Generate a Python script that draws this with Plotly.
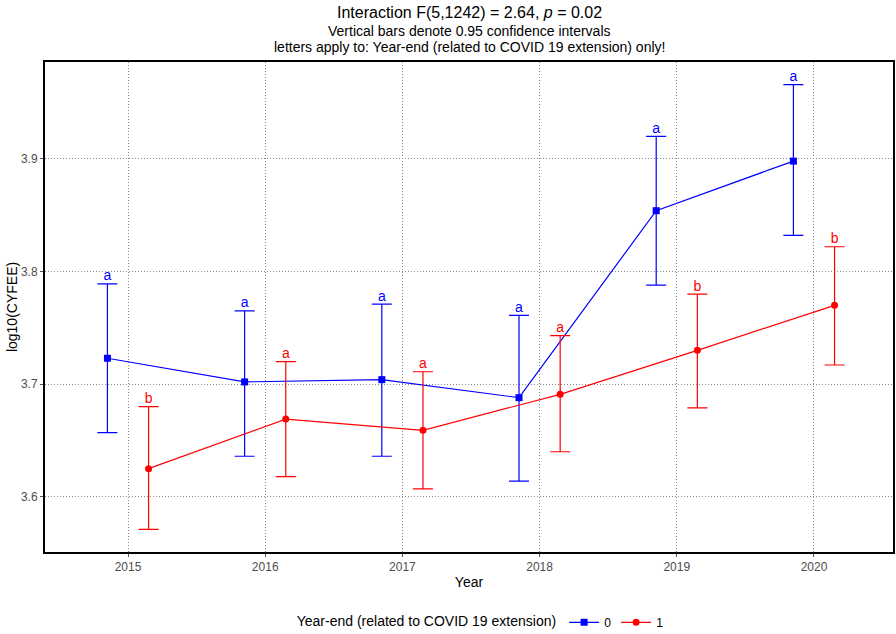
import plotly.graph_objects as go

years = [2015, 2016, 2017, 2018, 2019, 2020]
tick_labels = ["2015", "2016", "2017", "2018", "2019", "2020"]

mean0 = [3.723, 3.702, 3.704, 3.688, 3.854, 3.898]
upper0 = [3.789, 3.765, 3.771, 3.761, 3.920, 3.966]
lower0 = [3.657, 3.636, 3.636, 3.614, 3.788, 3.832]
letters0 = ["a", "a", "a", "a", "a", "a"]

mean1 = [3.625, 3.669, 3.659, 3.691, 3.730, 3.770]
upper1 = [3.680, 3.720, 3.711, 3.743, 3.780, 3.822]
lower1 = [3.571, 3.618, 3.607, 3.640, 3.679, 3.717]
letters1 = ["b", "a", "a", "a", "b", "b"]

dodge = 0.15
FONT = "Liberation Sans, Arial, sans-serif"

fig = go.Figure()

def add_series(means, ups, lows, letters, off, color, symbol, name):
    xs = [y + off for y in years]
    fig.add_trace(go.Scatter(
        x=xs, y=means, mode="lines+markers", name=name,
        line=dict(color=color, width=1.2),
        marker=dict(color=color, symbol=symbol, size=7),
        error_y=dict(type="data", symmetric=False,
                     array=[u - m for u, m in zip(ups, means)],
                     arrayminus=[m - l for m, l in zip(means, lows)],
                     color=color, thickness=1.2, width=10),
    ))
    fig.add_trace(go.Scatter(
        x=xs, y=ups, mode="text", text=letters, textposition="top center",
        textfont=dict(color=color, size=14, family=FONT),
        showlegend=False, hoverinfo="skip",
    ))

add_series(mean0, upper0, lower0, letters0, -dodge, "blue", "square", "0")
add_series(mean1, upper1, lower1, letters1, dodge, "red", "circle", "1")

fig.update_layout(
    width=896, height=634,
    margin=dict(l=45, r=3, t=62, b=82, autoexpand=False),
    paper_bgcolor="white", plot_bgcolor="white",
    font=dict(family=FONT, color="black", size=12),
    showlegend=True,
    legend=dict(orientation="h", x=0.515, xanchor="center", y=-0.114, yanchor="top",
                itemwidth=30,
                title=dict(text="Year-end (related to COVID 19 extension)", font=dict(size=14)),
                font=dict(size=12)),
    annotations=[
        dict(text="Interaction F(5,1242) = 2.64, <i>p</i> = 0.02", x=0.5, y=1.102,
             xref="paper", yref="paper", showarrow=False, yanchor="middle",
             font=dict(size=16, family=FONT)),
        dict(text="Vertical bars denote 0.95 confidence intervals", x=0.5, y=1.063,
             xref="paper", yref="paper", showarrow=False, yanchor="middle",
             font=dict(size=14, family=FONT)),
        dict(text="letters apply to: Year-end (related to COVID 19 extension) only!", x=0.5, y=1.031,
             xref="paper", yref="paper", showarrow=False, yanchor="middle",
             font=dict(size=14, family=FONT)),
    ],
)

fig.update_xaxes(
    range=[2014.395, 2020.576], tickvals=years, ticktext=tick_labels,
    showgrid=True, gridcolor="#888", griddash="1px,2px", gridwidth=1,
    showline=True, linecolor="black", linewidth=2, mirror=True,
    ticks="outside", ticklen=3, tickcolor="#555",
    tickfont=dict(color="#4d4d4d", size=12),
    title=dict(text="Year", font=dict(size=14), standoff=4), zeroline=False,
    automargin=False,
)
fig.update_yaxes(
    range=[3.551, 3.986], tickvals=[3.6, 3.7, 3.8, 3.9], ticktext=["3.6", "3.7", "3.8", "3.9"],
    showgrid=True, gridcolor="#888", griddash="1px,2px", gridwidth=1,
    showline=True, linecolor="black", linewidth=2, mirror=True,
    ticks="outside", ticklen=3, tickcolor="#555",
    tickfont=dict(color="#4d4d4d", size=12),
    title=dict(text="log10(CYFEE)", font=dict(size=14), standoff=0), zeroline=False,
    automargin=False,
)

fig.write_html(
    "out.html",
    config={"displayModeBar": False},
    post_script="document.body.style.margin='0';document.body.style.overflow='hidden';",
)
